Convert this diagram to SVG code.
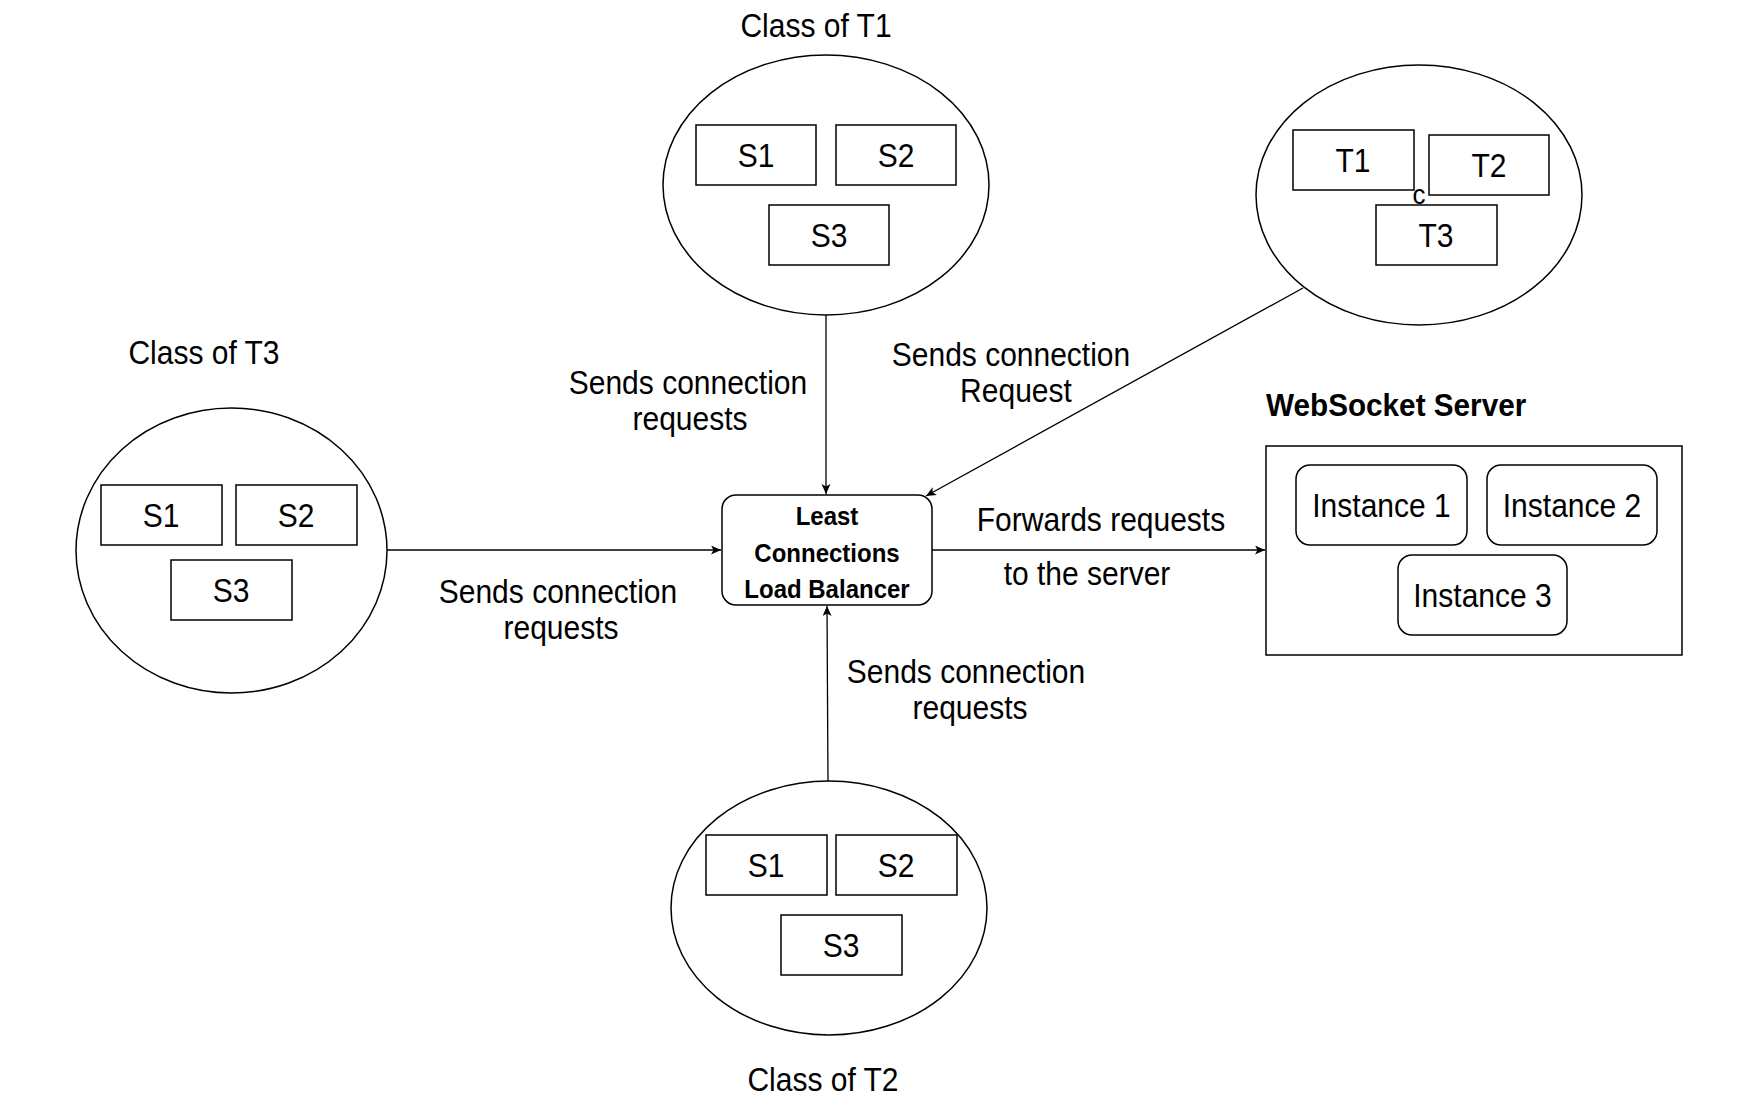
<svg xmlns="http://www.w3.org/2000/svg" width="1756" height="1117" viewBox="0 0 1756 1117">
<style>
text{font-family:"Liberation Sans",Arial,Helvetica,sans-serif;fill:#000;transform-box:fill-box;transform-origin:50% 50%;transform:scaleY(1.08)}
.t{font-size:30px}
.c{text-anchor:middle}
.b{font-weight:bold}
.lb{font-size:24px}
.ws{font-size:29.7px}
.sm{font-size:26px}
.shape{fill:#fff;stroke:#000;stroke-width:1.5}
.edge{fill:none;stroke:#000;stroke-width:1.3}
</style>
<defs>
<marker id="arr" markerUnits="userSpaceOnUse" markerWidth="12" markerHeight="10" refX="10" refY="4.5" orient="auto">
<path d="M0,0 L10,4.5 L0,9 L2.5,4.5 Z" fill="#000"/>
</marker>
</defs>
<rect width="1756" height="1117" fill="#fff"/>

<g id="connectors">
<line class="edge" x1="826" y1="315" x2="826" y2="494" marker-end="url(#arr)"/>
<line class="edge" x1="1303" y1="288" x2="926" y2="496" marker-end="url(#arr)"/>
<line class="edge" x1="387" y1="550" x2="721" y2="550" marker-end="url(#arr)"/>
<line class="edge" x1="828" y1="781" x2="827" y2="606" marker-end="url(#arr)"/>
<line class="edge" x1="932" y1="550" x2="1265" y2="550" marker-end="url(#arr)"/>
</g>

<g id="class-t1">
<text class="t c" x="816" y="36">Class of T1</text>
<ellipse class="shape" cx="826" cy="185" rx="163" ry="130"/>
<rect class="shape" x="696" y="125" width="120" height="60"/>
<text class="t c" x="756" y="166">S1</text>
<rect class="shape" x="836" y="125" width="120" height="60"/>
<text class="t c" x="896" y="166">S2</text>
<rect class="shape" x="769" y="205" width="120" height="60"/>
<text class="t c" x="829" y="246">S3</text>
</g>

<g id="class-t">
<ellipse class="shape" cx="1419" cy="195" rx="163" ry="130"/>
<rect class="shape" x="1293" y="130" width="121" height="60"/>
<text class="t c" x="1353" y="171">T1</text>
<rect class="shape" x="1429" y="135" width="120" height="60"/>
<text class="t c" x="1489" y="176">T2</text>
<rect class="shape" x="1376" y="205" width="121" height="60"/>
<text class="t c" x="1436" y="246">T3</text>
<text class="sm c" x="1419" y="203">c</text>
</g>

<g id="class-t3">
<text class="t c" x="204" y="363">Class of T3</text>
<ellipse class="shape" cx="231.5" cy="550.5" rx="155.5" ry="142.5"/>
<rect class="shape" x="101" y="485" width="121" height="60"/>
<text class="t c" x="161" y="526">S1</text>
<rect class="shape" x="236" y="485" width="121" height="60"/>
<text class="t c" x="296" y="526">S2</text>
<rect class="shape" x="171" y="560" width="121" height="60"/>
<text class="t c" x="231" y="601">S3</text>
</g>

<g id="class-t2">
<ellipse class="shape" cx="829" cy="908" rx="158" ry="127"/>
<rect class="shape" x="706" y="835" width="121" height="60"/>
<text class="t c" x="766" y="876">S1</text>
<rect class="shape" x="836" y="835" width="121" height="60"/>
<text class="t c" x="896" y="876">S2</text>
<rect class="shape" x="781" y="915" width="121" height="60"/>
<text class="t c" x="841" y="956">S3</text>
<text class="t c" x="823" y="1090">Class of T2</text>
</g>

<g id="load-balancer">
<rect class="shape" x="722" y="495" width="210" height="110" rx="14" ry="14"/>
<text class="lb b c" x="827" y="524">Least</text>
<text class="lb b c" x="827" y="561">Connections</text>
<text class="lb b c" x="827" y="597">Load Balancer</text>
</g>

<g id="websocket-server">
<text class="ws b" x="1266" y="415">WebSocket Server</text>
<rect class="shape" x="1266" y="446" width="416" height="209"/>
<rect class="shape" x="1296" y="465" width="171" height="80" rx="14" ry="14"/>
<text class="t c" x="1381.5" y="516">Instance 1</text>
<rect class="shape" x="1487" y="465" width="170" height="80" rx="14" ry="14"/>
<text class="t c" x="1572" y="516">Instance 2</text>
<rect class="shape" x="1398" y="555" width="169" height="80" rx="14" ry="14"/>
<text class="t c" x="1482.5" y="606">Instance 3</text>
</g>

<g id="labels">
<text class="t c" x="688" y="393">Sends connection</text>
<text class="t c" x="690" y="429">requests</text>
<text class="t c" x="1011" y="365">Sends connection</text>
<text class="t c" x="1016" y="401">Request</text>
<text class="t c" x="1101" y="530">Forwards requests</text>
<text class="t c" x="1087" y="584">to the server</text>
<text class="t c" x="558" y="602">Sends connection</text>
<text class="t c" x="561" y="638">requests</text>
<text class="t c" x="966" y="682">Sends connection</text>
<text class="t c" x="970" y="718">requests</text>
</g>
</svg>
